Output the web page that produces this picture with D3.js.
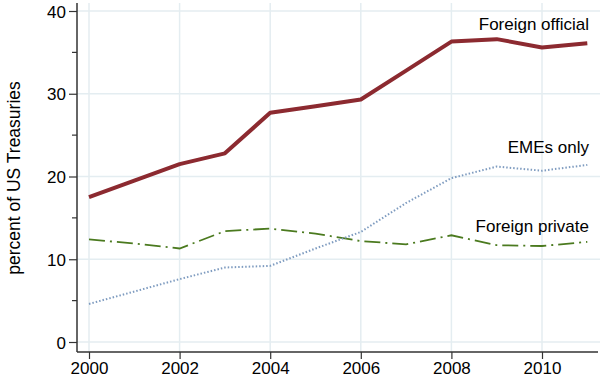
<!DOCTYPE html>
<html>
<head>
<meta charset="utf-8">
<script src="https://cdn.jsdelivr.net/npm/d3@7"></script>
<style>
  body { margin: 0; background: #fff; }
  text { font-family: Arial, "Liberation Sans", sans-serif; }
</style>
</head>
<body>
<svg id="chart"></svg>
<script>
const years = [2000, 2001, 2002, 2003, 2004, 2005, 2006, 2007, 2008, 2009, 2010, 2011];
const foreignOfficial = [17.5, 19.5, 21.5, 22.8, 27.7, 28.5, 29.3, 32.8, 36.3, 36.6, 35.6, 36.1];
const emesOnly = [4.6, 6.1, 7.6, 9.0, 9.2, 11.3, 13.3, 16.8, 19.8, 21.2, 20.7, 21.4];
const foreignPrivate = [12.4, 11.9, 11.3, 13.4, 13.7, 13.1, 12.2, 11.8, 12.9, 11.7, 11.6, 12.1];
const xTicks = [2000, 2002, 2004, 2006, 2008, 2010];
const yTicks = [0, 10, 20, 30, 40];
const yMinorTicks = [5, 15, 25, 35];

const width = 600, height = 385;

const svg = d3.select("#chart").attr("width", width).attr("height", height);

const x = d3.scaleLinear().domain([2000, 2010]).range([89, 542]);
const y = d3.scaleLinear().domain([0, 40]).range([342, 11]);

const axisX = 77, axisY = 352;

// gridlines
svg.append("g")
  .selectAll("line")
  .data(yTicks)
  .join("line")
  .attr("x1", axisX)
  .attr("x2", width)
  .attr("y1", (d) => y(d))
  .attr("y2", (d) => y(d))
  .style("stroke", "#e4edf1")
  .style("stroke-width", 1.5);

svg.append("g")
  .selectAll("line")
  .data(xTicks)
  .join("line")
  .attr("x1", (d) => x(d))
  .attr("x2", (d) => x(d))
  .attr("y1", 3)
  .attr("y2", axisY)
  .style("stroke", "#e4edf1")
  .style("stroke-width", 1.5);

// axes
const yAxis = svg.append("g").attr("transform", `translate(${axisX},0)`);
yAxis.call(d3.axisLeft(y).tickValues(yTicks).tickSize(8).tickPadding(3));
yAxis.select(".domain").remove();
yAxis.append("line").attr("x1", 0).attr("x2", 0).attr("y1", 3).attr("y2", axisY)
  .style("stroke", "#333").style("stroke-width", 1.5);
yAxis.selectAll(".tick line").style("stroke", "#333").style("stroke-width", 1.2);
yAxis.selectAll(".tick text").style("font-size", "17px").style("fill", "#000")
  .attr("dy", "0.36em");
yAxis.selectAll(".minor")
  .data(yMinorTicks)
  .join("line")
  .attr("class", "minor")
  .attr("x1", -5)
  .attr("x2", 0)
  .attr("y1", (d) => y(d))
  .attr("y2", (d) => y(d))
  .style("stroke", "#333")
  .style("stroke-width", 1.2);

const xAxis = svg.append("g").attr("transform", `translate(0,${axisY})`);
xAxis.call(d3.axisBottom(x).tickValues(xTicks).tickFormat(d3.format("d")).tickSize(7).tickPadding(3));
xAxis.select(".domain").remove();
xAxis.append("line").attr("x1", axisX).attr("x2", 598).attr("y1", 0).attr("y2", 0)
  .style("stroke", "#333").style("stroke-width", 1.5);
xAxis.selectAll(".tick line").style("stroke", "#333").style("stroke-width", 1.2);
xAxis.selectAll(".tick text").style("font-size", "17px").style("fill", "#000");

svg.append("text")
  .attr("transform", "translate(20,178) rotate(-90)")
  .attr("text-anchor", "middle")
  .style("font-size", "17.5px")
  .style("fill", "#000")
  .text("percent of US Treasuries");

// series
const line = d3.line()
  .x((d, i) => x(years[i]))
  .y((d) => y(d));

svg.append("path")
  .attr("d", line(foreignPrivate))
  .style("fill", "none")
  .style("stroke", "#4b7a1f")
  .style("stroke-width", 1.8)
  .style("stroke-dasharray", "16,5,2,5");

svg.append("path")
  .attr("d", line(emesOnly))
  .style("fill", "none")
  .style("stroke", "#7f9cc0")
  .style("stroke-width", 2)
  .style("stroke-dasharray", "1.5,2");

svg.append("path")
  .attr("d", line(foreignOfficial))
  .style("fill", "none")
  .style("stroke", "#8c2a30")
  .style("stroke-width", 4)
  .style("stroke-linejoin", "round");

// labels
const labels = [
  { text: "Foreign official", yy: 30 },
  { text: "EMEs only", yy: 153 },
  { text: "Foreign private", yy: 232 },
];
svg.selectAll(".serieslabel")
  .data(labels)
  .join("text")
  .attr("class", "serieslabel")
  .attr("x", 589)
  .attr("y", (d) => d.yy)
  .attr("text-anchor", "end")
  .style("font-size", "17px")
  .style("fill", "#000")
  .text((d) => d.text);
</script>
</body>
</html>
